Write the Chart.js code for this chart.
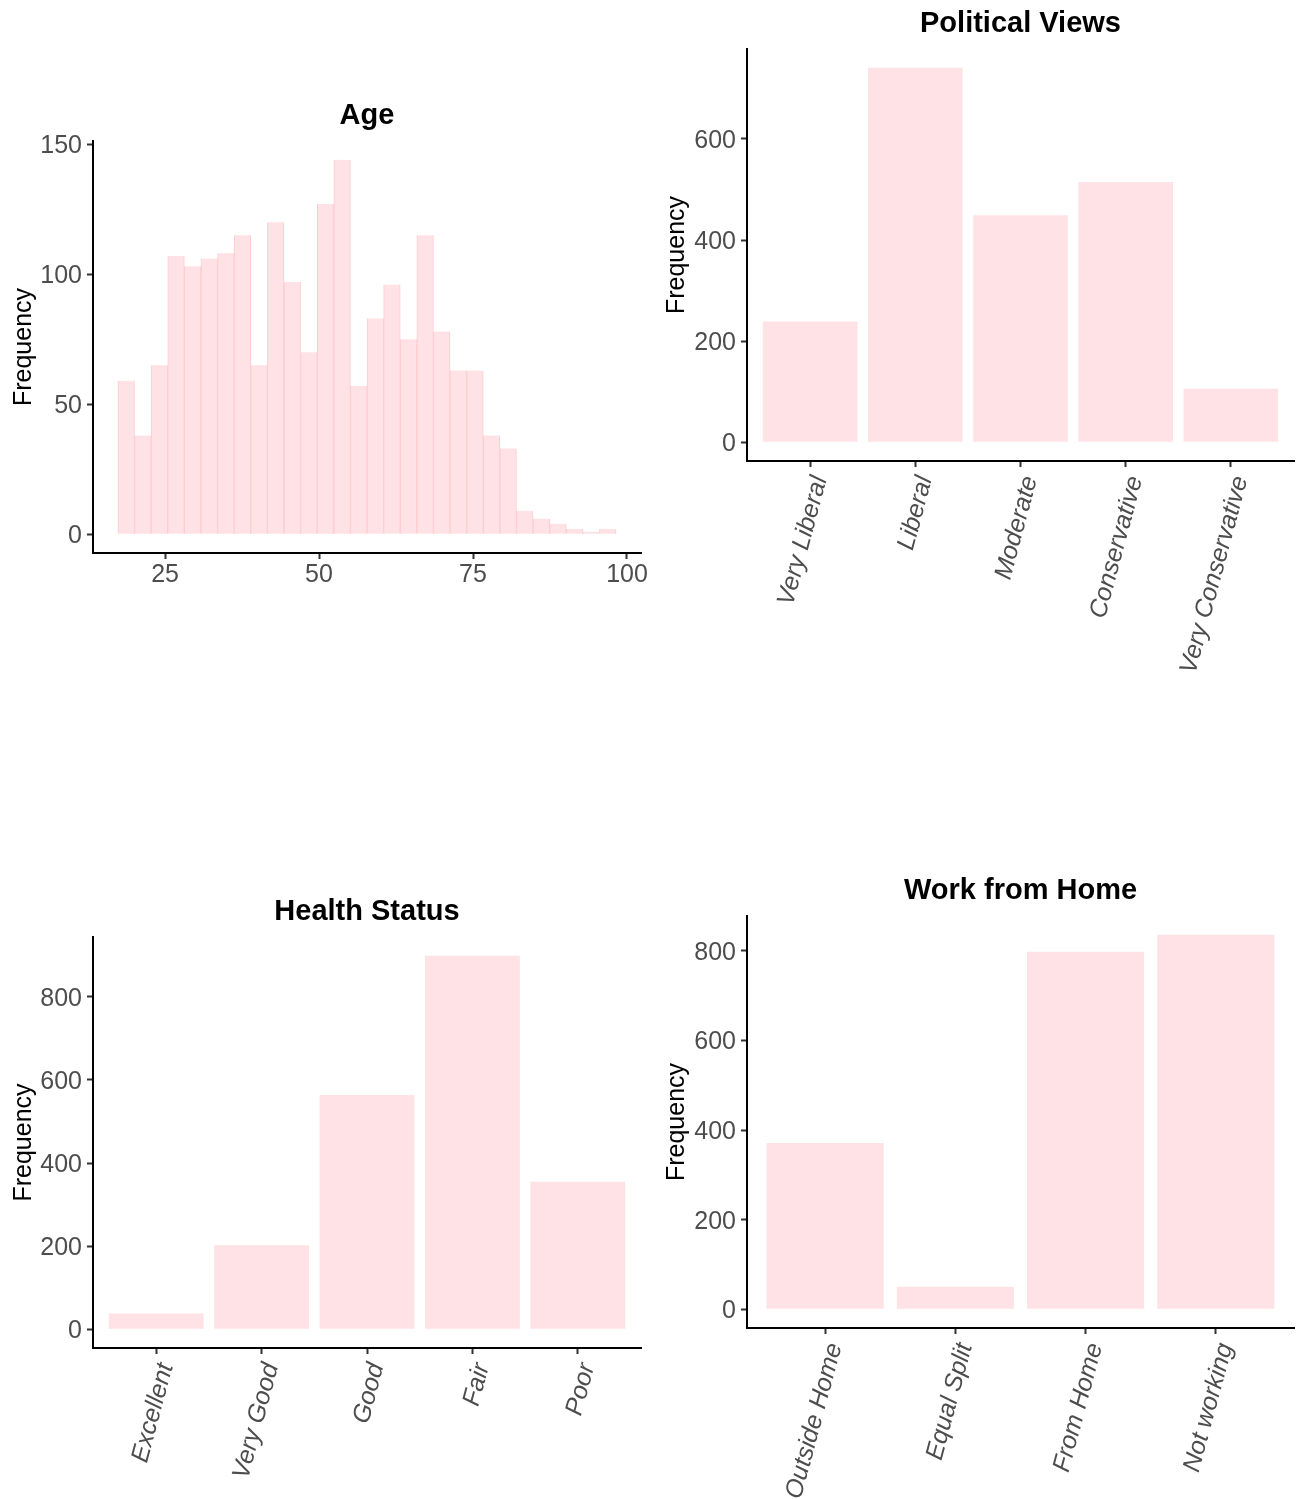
<!DOCTYPE html>
<html>
<head>
<meta charset="utf-8">
<title>Survey variables</title>
<script src="https://cdn.jsdelivr.net/npm/chart.js@4.4.1/dist/chart.umd.min.js"></script>
<style>
    html, body { margin: 0; padding: 0; background: #fff; }
    body { position: relative; width: 1304px; height: 1499px; overflow: hidden; }
    canvas { position: absolute; }
</style>
</head>
<body>
<canvas id="ageChart" width="652" height="740" style="left:0;top:0"></canvas>
<canvas id="politicsChart" width="652" height="740" style="left:652px;top:0"></canvas>
<canvas id="healthChart" width="652" height="759" style="left:0;top:740px"></canvas>
<canvas id="wfhChart" width="652" height="759" style="left:652px;top:740px"></canvas>
<script>
// Age histogram: bin mid-points and counts (30 bins)
const ageBinMids = [18.70, 21.40, 24.09, 26.79, 29.48, 32.18, 34.88, 37.57, 40.27, 42.96,
                    45.66, 48.36, 51.05, 53.75, 56.44, 59.14, 61.84, 64.53, 67.23, 69.92,
                    72.62, 75.32, 78.01, 80.71, 83.40, 86.10, 88.80, 91.49, 94.19, 96.88];
const ageCounts = [59, 38, 65, 107, 103, 106, 108, 115, 65, 120,
                   97, 70, 127, 144, 57, 83, 96, 75, 115, 78,
                   63, 63, 38, 33, 9, 6, 4, 2, 1, 2];
const ageXTicks = [25, 50, 75, 100];
const ageYTicks = [0, 50, 100, 150];

// Political views
const politicsLabels = ['Very Liberal', 'Liberal', 'Moderate', 'Conservative', 'Very Conservative'];
const politicsCounts = [239, 741, 449, 515, 106];
const politicsYTicks = [0, 200, 400, 600];

// Health status
const healthLabels = ['Excellent', 'Very Good', 'Good', 'Fair', 'Poor'];
const healthCounts = [38, 202, 564, 899, 355];
const healthYTicks = [0, 200, 400, 600, 800];

// Work from home
const wfhLabels = ['Outside Home', 'Equal Split', 'From Home', 'Not working'];
const wfhCounts = [371, 50, 798, 836];
const wfhYTicks = [0, 200, 400, 600, 800];

const BAR_FILL = '#FFE2E5';
const BAR_EDGE = '#FFCCD0';
const TICK_TEXT = '#4D4D4D';

Chart.defaults.font.family = '"Liberation Sans", Arial, Helvetica, sans-serif';
Chart.defaults.animation = false;

function axisLine() {
    return { display: true, color: '#000', width: 2 };
}

function tickMarks() {
    return { drawOnChartArea: false, drawTicks: true, tickLength: 6, tickWidth: 2, tickColor: '#333', offset: false };
}

// y axis with ggplot style 5% expansion
function yAxis(counts, ticks, width, titlePad) {
    const top = Math.max(...counts);
    return {
        type: 'linear',
        bounds: 'data',
        min: -top * 0.05,
        max: top * 1.05,
        afterBuildTicks: axis => { axis.ticks = ticks.map(v => ({ value: v })); },
        afterFit: axis => { axis.width = width; },
        border: axisLine(),
        grid: tickMarks(),
        ticks: { color: TICK_TEXT, font: { size: 25 }, padding: 5, labelOffset: 2 },
        title: {
            display: true,
            text: 'Frequency',
            color: '#000',
            font: { size: 25 },
            padding: { top: titlePad, bottom: 0 }
        }
    };
}

// discrete x axis drawn on a linear scale so the 0.6 expansion matches
function catXAxis(labels, height) {
    return {
        type: 'linear',
        bounds: 'data',
        offset: false,
        min: -0.6,
        max: labels.length - 0.4,
        afterBuildTicks: axis => { axis.ticks = labels.map((_, i) => ({ value: i })); },
        afterFit: axis => { axis.height = height; },
        border: axisLine(),
        grid: tickMarks(),
        ticks: {
            color: TICK_TEXT,
            font: { size: 25, style: 'italic' },
            padding: 6,
            labelOffset: 10,
            minRotation: 75,
            maxRotation: 75,
            autoSkip: false,
            callback: v => labels[v]
        }
    };
}

function titleOpts(text) {
    return {
        display: true,
        text: text,
        fullSize: false,
        color: '#000',
        font: { size: 29, weight: 'bold' },
        padding: { top: 0, bottom: 8 }
    };
}

function barPanel(canvasId, title, labels, counts, yTicks, yWidth, titlePad, xHeight, padding) {
    return new Chart(document.getElementById(canvasId), {
        type: 'bar',
        data: {
            datasets: [{
                data: counts.map((c, i) => ({ x: i, y: c })),
                backgroundColor: BAR_FILL,
                borderWidth: 0,
                barPercentage: 0.9,
                categoryPercentage: 1.0
            }]
        },
        options: {
            responsive: false,
            layout: { padding: padding },
            plugins: {
                legend: { display: false },
                tooltip: { enabled: false },
                title: titleOpts(title)
            },
            scales: {
                x: catXAxis(labels, xHeight),
                y: yAxis(counts, yTicks, yWidth, titlePad)
            }
        }
    });
}

// Age histogram
const binW = ageBinMids[1] - ageBinMids[0];
const ageLo = ageBinMids[0] - binW / 2;
const ageHi = ageBinMids[ageBinMids.length - 1] + binW / 2;
const ageSpan = ageHi - ageLo;

new Chart(document.getElementById('ageChart'), {
    type: 'bar',
    data: {
        datasets: [{
            data: ageBinMids.map((m, i) => ({ x: m, y: ageCounts[i] })),
            backgroundColor: BAR_FILL,
            borderColor: BAR_EDGE,
            borderWidth: { left: 1, right: 1, top: 0, bottom: 0 },
            borderSkipped: false,
            barPercentage: 1.0,
            categoryPercentage: 1.0
        }]
    },
    options: {
        responsive: false,
        layout: { padding: { left: 0, right: 11, top: 98.2, bottom: 0 } },
        plugins: {
            legend: { display: false },
            tooltip: { enabled: false },
            title: titleOpts('Age')
        },
        scales: {
            x: {
                type: 'linear',
                bounds: 'data',
                offset: false,
                min: ageLo - ageSpan * 0.05,
                max: ageHi + ageSpan * 0.05,
                afterBuildTicks: axis => { axis.ticks = ageXTicks.map(v => ({ value: v })); },
                afterFit: axis => { axis.height = 187; },
                border: axisLine(),
                grid: tickMarks(),
                ticks: { color: TICK_TEXT, font: { size: 25 }, padding: 1, maxRotation: 0 }
            },
            y: yAxis(ageCounts, ageYTicks, 93, 9)
        }
    }
});

barPanel('politicsChart', 'Political Views', politicsLabels, politicsCounts, politicsYTicks, 95, 10, 279,
    { left: 0, right: 10, top: 6.2, bottom: 0 });
barPanel('healthChart', 'Health Status', healthLabels, healthCounts, healthYTicks, 93, 9, 151,
    { left: 0, right: 11, top: 154.2, bottom: 0 });
barPanel('wfhChart', 'Work from Home', wfhLabels, wfhCounts, wfhYTicks, 95, 10, 171,
    { left: 0, right: 10, top: 133.2, bottom: 0 });
</script>
</body>
</html>
